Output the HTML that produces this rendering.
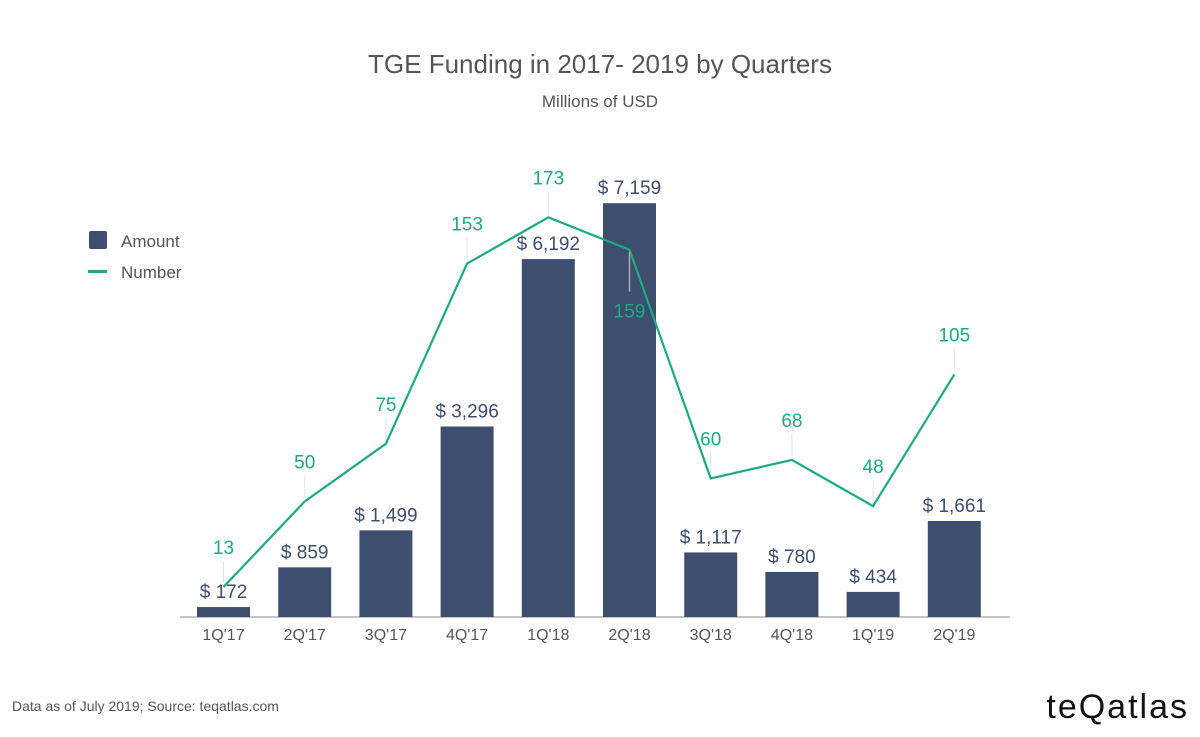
<!DOCTYPE html>
<html><head><meta charset="utf-8"><style>
body{margin:0;background:#fff;font-family:"Liberation Sans",sans-serif}
svg text{font-family:"Liberation Sans",sans-serif}
</style></head><body>
<svg id="chart" width="1200" height="732" viewBox="0 0 1200 732" xmlns="http://www.w3.org/2000/svg">
<text x="600" y="73" text-anchor="middle" font-size="26" fill="#555">TGE Funding in 2017- 2019 by Quarters</text>
<text x="600" y="107" text-anchor="middle" font-size="17" fill="#555">Millions of USD</text>
<g>
<rect x="89" y="231" width="18" height="18" rx="2" fill="#3d4e6e"/>
<text x="121" y="247" font-size="17" fill="#555">Amount</text>
<rect x="88" y="270" width="19" height="3" fill="#1aab7f"/>
<text x="121" y="278" font-size="17" fill="#555">Number</text>
</g>
<line x1="180" y1="617" x2="1010" y2="617" stroke="#888" stroke-width="1"/>
<g id="bars"></g>
<g id="line"></g>
<g id="xlabels"></g>
<text x="12" y="711" font-size="14" fill="#555">Data as of July 2019; Source: teqatlas.com</text>
<text x="1189" y="718" text-anchor="end" font-size="34" fill="#111" letter-spacing="2">teQatlas</text>
</svg>
<script>
const categories=["1Q'17","2Q'17","3Q'17","4Q'17","1Q'18","2Q'18","3Q'18","4Q'18","1Q'19","2Q'19"];
const amounts=[172,859,1499,3296,6192,7159,1117,780,434,1661];
const amountLabels=["$ 172","$ 859","$ 1,499","$ 3,296","$ 6,192","$ 7,159","$ 1,117","$ 780","$ 434","$ 1,661"];
const numbers=[13,50,75,153,173,159,60,68,48,105];
const NS="http://www.w3.org/2000/svg";
const base=617;
function xPos(i){return 223.5+i*81.2;}
function yAmt(v){return base-v*0.0578;}
function yNum(v){return base-v*2.31;}
function mk(t,a){const e=document.createElementNS(NS,t);for(const k in a)e.setAttribute(k,a[k]);return e;}
const bars=document.getElementById('bars'),line=document.getElementById('line'),xl=document.getElementById('xlabels');
categories.forEach((c,i)=>{
 const x=xPos(i),y=yAmt(amounts[i]);
 const r=mk('rect',{x:x-26.5,y:y,width:53,height:base-y,fill:'#3d4e6e'});
 
 
 bars.appendChild(r);
 const t=mk('text',{x:x,y:y-9,'text-anchor':'middle','font-size':'19',fill:'#3d4e6e'});
 t.textContent=amountLabels[i];
 
 
 bars.appendChild(t);
 const xt=mk('text',{x:x,y:640,'text-anchor':'middle','font-size':'16',fill:'#555'});
 xt.textContent=c;
 
 
 xl.appendChild(xt);
});
const pts=numbers.map((v,i)=>xPos(i)+','+yNum(v)).join(' ');
const pl=mk('polyline',{points:pts,fill:'none',stroke:'#1aab7f','stroke-width':'2.2'});


line.appendChild(pl);
numbers.forEach((v,i)=>{
 const x=xPos(i),y=yNum(v);
 let ty=y-33;
 if(i===5){ty=y+68;
  const c=mk('line',{x1:x,y1:y+2,x2:x,y2:y+42,stroke:'#aaa','stroke-width':'1.5'});
  
  
  line.appendChild(c);
 } else {
  const c=mk('line',{x1:x,y1:y-4,x2:x,y2:y-26,stroke:'#e2e2e2','stroke-width':'1'});
  
  
  line.appendChild(c);
 }
 const t=mk('text',{x:x,y:ty,'text-anchor':'middle','font-size':'19',fill:'#1aab7f'});
 t.textContent=v;
 
 
 line.appendChild(t);
});
</script>
</body></html>
